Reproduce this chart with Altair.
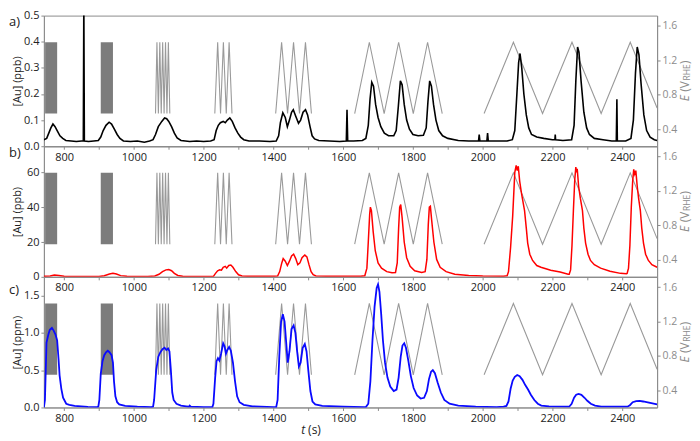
import altair as alt
import pandas as pd

FONT = "Open Sans"
W, H = 615, 131
T_DOMAIN = [742, 2500]
E_DOMAIN = [0.2, 1.72]
GREY = "#8c8c8c"
ELINE = "#9a9a9a"
TXT = "#222222"

# ---------------- data ----------------
x_ticks = list(range(800, 2500, 100))

# a) [Au] (ppb), black
sig_a = [(742,0.025),(750,0.03),(756,0.05),(762,0.07),(768,0.085),(774,0.075),(780,0.06),(788,0.04),(796,0.03),
         (805,0.022),(820,0.02),(835,0.018),(850,0.02),(855,0.02),(856.5,0.56),(858,0.02),(870,0.018),(885,0.02),
         (898,0.022),(905,0.035),(912,0.06),(920,0.08),(929,0.092),(936,0.085),(944,0.065),(952,0.045),(960,0.03),
         (970,0.02),(990,0.018),(1010,0.02),(1030,0.015),(1045,0.02),(1055,0.025),(1062,0.045),(1070,0.075),
         (1080,0.095),(1088,0.108),(1094,0.105),(1100,0.095),(1108,0.075),(1116,0.05),(1124,0.032),(1135,0.022),
         (1160,0.018),(1180,0.02),(1200,0.018),(1220,0.02),(1230,0.025),(1236,0.06),(1242,0.08),(1248,0.09),
         (1256,0.095),(1262,0.09),(1268,0.1),(1275,0.108),(1282,0.095),(1290,0.07),(1298,0.05),(1306,0.035),
         (1315,0.025),(1330,0.02),(1360,0.02),(1390,0.018),(1408,0.02),(1415,0.04),(1420,0.09),(1427,0.128),
         (1434,0.11),(1440,0.075),(1446,0.1),(1452,0.13),(1457,0.14),(1464,0.115),(1472,0.088),(1478,0.1),
         (1485,0.13),(1492,0.14),(1498,0.12),(1505,0.075),(1511,0.04),(1518,0.028),(1530,0.022),(1560,0.02),
         (1590,0.018),(1609,0.02),(1611,0.14),(1613,0.02),(1630,0.02),(1655,0.022),(1665,0.03),(1672,0.08),
         (1677,0.18),(1682,0.245),(1687,0.23),(1693,0.16),(1700,0.11),(1708,0.075),(1718,0.05),(1730,0.04),
         (1745,0.04),(1752,0.06),(1758,0.15),(1764,0.25),(1769,0.235),(1775,0.16),(1782,0.1),(1790,0.065),
         (1800,0.045),(1815,0.04),(1830,0.042),(1838,0.07),(1843,0.17),(1848,0.25),(1853,0.23),(1859,0.16),
         (1866,0.1),(1874,0.06),(1885,0.04),(1900,0.03),(1930,0.022),(1960,0.02),(1988,0.02),(1990,0.045),
         (1992,0.02),(2012,0.02),(2014,0.05),(2016,0.02),(2040,0.02),(2070,0.02),(2085,0.025),(2092,0.06),
         (2098,0.2),(2103,0.32),(2107,0.355),(2112,0.3),(2118,0.2),(2125,0.12),(2132,0.07),(2140,0.045),
         (2155,0.035),(2175,0.03),(2200,0.025),(2207,0.025),(2208,0.045),(2209,0.025),(2230,0.022),(2255,0.025),
         (2262,0.08),(2267,0.25),(2272,0.38),(2276,0.36),(2282,0.25),(2290,0.13),(2298,0.07),(2306,0.045),
         (2320,0.03),(2345,0.025),(2370,0.02),(2383,0.02),(2384.7,0.18),(2386,0.02),(2410,0.02),(2425,0.03),
         (2432,0.1),(2438,0.28),(2443,0.38),(2448,0.35),(2454,0.24),(2462,0.12),(2470,0.06),(2480,0.035),
         (2492,0.025),(2500,0.022)]

# b) [Au] (ppb), red
sig_b = [(742,0.3),(760,0.5),(772,1.0),(785,0.8),(800,0.3),(830,0.2),(900,0.2),(915,0.6),(930,1.6),(940,2.0),
         (950,1.6),(962,0.7),(980,0.3),(1040,0.2),(1060,0.5),(1072,1.5),(1082,3),(1092,4),(1100,4.2),(1108,3.5),
         (1116,2),(1126,0.8),(1140,0.3),(1200,0.2),(1228,0.3),(1234,2),(1240,3.5),(1246,4),(1251,3.8),(1256,5.5),
         (1262,6),(1266,5),(1272,6.5),(1278,6.8),(1284,5.5),(1292,3),(1300,1.2),(1310,0.5),(1330,0.3),(1400,0.3),
         (1412,0.5),(1418,3),(1424,8),(1428,10.5),(1434,9),(1440,6.5),(1446,9),(1452,12),(1458,13),(1464,10.5),
         (1470,7),(1476,8),(1482,11),(1490,12.5),(1496,11.5),(1502,7),(1508,3),(1514,1.2),(1522,0.5),(1560,0.3),
         (1650,0.3),(1662,0.6),(1668,5),(1672,20),(1676,36),(1678,40),(1681,38),(1686,26),(1692,15),(1700,8),
         (1710,5),(1725,3),(1740,2.3),(1750,2.5),(1755,8),(1759,28),(1762,40),(1765,41.5),(1769,34),(1775,20),
         (1782,11),(1792,6),(1805,3.5),(1825,2.5),(1835,3),(1840,10),(1844,30),(1847,40),(1850,40.5),(1854,32),
         (1860,20),(1868,10),(1878,5.5),(1895,3),(1920,1.5),(1960,0.8),(2000,0.5),(2060,0.4),(2070,0.6),(2074,3),
         (2080,17),(2086,35),(2092,60),(2096,64),(2099,61),(2102,63.5),(2106,55),(2112,47),(2120,38),(2125,28),
         (2129,19.4),(2135,13),(2143,9.4),(2155,6.5),(2167,5.5),(2195,3.8),(2222,2.8),(2245,1.5),(2248,1.5),
         (2252,4),(2256,18),(2260,38),(2264,56),(2267,63),(2269,60),(2271,62),(2275,52),(2280,45),(2286,38),
         (2290,28),(2295,19.4),(2302,13),(2309,9.4),(2320,7),(2338,5),(2365,3.2),(2395,2),(2412,1.8),(2414,2),
         (2418,5),(2422,18),(2426,40),(2430,55),(2433,61.7),(2436,59),(2439,61),(2443,52),(2447,45),(2452,38),
         (2456,28),(2461,19.4),(2467,13),(2475,9.4),(2485,7),(2500,5.5)]

# c) [Au] (ppm), blue
sig_c = [(742,0.0),(745,0.1),(749.5,0.87),(755,0.98),(759,1.04),(765,1.065),(770,1.03),(775,0.98),(780,0.9),
         (784,0.65),(787,0.43),(792,0.25),(797,0.13),(806,0.05),(815,0.035),(830,0.02),(868,0.008),(895,0.005),
         (898,0.01),(901,0.1),(905,0.45),(910,0.62),(915,0.7),(920,0.74),(925,0.76),(930,0.74),(936,0.7),(940,0.6),
         (943,0.35),(947,0.15),(952,0.07),(958,0.04),(975,0.02),(1010,0.01),(1050,0.005),(1055,0.01),(1058,0.1),
         (1064,0.5),(1070,0.68),(1076,0.74),(1082,0.78),(1088,0.8),(1093,0.77),(1098,0.79),(1102,0.75),(1106,0.5),
         (1110,0.2),(1114,0.1),(1122,0.05),(1135,0.025),(1150,0.015),(1158,0.01),(1160,0.025),(1163,0.01),
         (1200,0.005),(1225,0.005),(1228,0.05),(1233,0.4),(1237,0.62),(1241,0.66),(1245,0.63),(1250,0.72),
         (1256,0.86),(1260,0.82),(1264,0.72),(1268,0.77),(1273,0.81),(1278,0.76),(1284,0.6),(1290,0.35),
         (1296,0.15),(1303,0.07),(1315,0.035),(1340,0.015),(1400,0.005),(1408,0.005),(1412,0.1),(1417,0.7),
         (1422,1.15),(1427,1.25),(1432,1.15),(1437,0.85),(1441,0.6),(1446,0.75),(1452,1.05),(1458,1.1),(1463,1.0),
         (1468,0.75),(1473,0.55),(1478,0.6),(1484,0.8),(1490,0.85),(1495,0.75),(1500,0.5),(1506,0.22),(1512,0.08),
         (1520,0.04),(1540,0.02),(1600,0.01),(1660,0.005),(1665,0.005),(1672,0.05),(1678,0.35),(1684,0.9),
         (1690,1.35),(1696,1.6),(1700,1.65),(1704,1.55),(1709,1.25),(1714,0.9),(1720,0.6),(1727,0.4),(1735,0.28),
         (1745,0.22),(1753,0.24),(1759,0.4),(1765,0.68),(1770,0.83),(1775,0.86),(1780,0.8),(1787,0.62),
         (1794,0.42),(1802,0.26),(1812,0.16),(1822,0.12),(1832,0.13),(1840,0.22),(1846,0.38),(1852,0.48),
         (1857,0.5),(1863,0.46),(1871,0.33),(1880,0.2),(1890,0.1),(1905,0.05),(1930,0.025),(1980,0.01),
         (2040,0.005),(2060,0.01),(2068,0.02),(2074,0.08),(2080,0.25),(2086,0.36),(2092,0.41),(2099,0.435),
         (2106,0.42),(2114,0.37),(2122,0.3),(2130,0.24),(2138,0.17),(2148,0.1),(2158,0.05),(2168,0.025),
         (2190,0.015),(2240,0.01),(2248,0.01),(2255,0.05),(2262,0.13),(2268,0.17),(2275,0.182),(2283,0.17),
         (2292,0.13),(2300,0.09),(2310,0.05),(2322,0.025),(2340,0.012),(2410,0.01),(2415,0.01),(2422,0.03),
         (2430,0.07),(2440,0.085),(2450,0.087),(2460,0.08),(2470,0.07),(2480,0.06),(2490,0.05),(2500,0.04)]

# potential program E (V_RHE): vertices of each sweep block
b200_t = [1062, 1066.1, 1070.2, 1074.3, 1078.4, 1082.5, 1086.6, 1090.7, 1094.8, 1098.9, 1103.0]
b200_e = [0.58, 1.41, 0.58, 1.41, 0.58, 1.41, 0.58, 1.41, 0.58, 1.41, 0.58]
b100_t = [1232, 1240.2, 1248.4, 1256.6, 1264.8, 1273, 1281.2]
b100_e = [0.58, 1.41, 0.58, 1.41, 0.58, 1.41, 0.58]
b50_t = [1406.5, 1423.5, 1440.6, 1457.7, 1474.8, 1491.9, 1509]
b50_e = [0.58, 1.41, 0.58, 1.41, 0.58, 1.41, 0.58]
b20_t = [1633, 1675, 1717.5, 1759, 1801, 1842, 1884]
b20_e = [0.58, 1.41, 0.58, 1.41, 0.58, 1.41, 0.58]
b10_t = [2004, 2088, 2171.6, 2256, 2339.6, 2423, 2500]
b10_e = [0.58, 1.41, 0.58, 1.41, 0.58, 1.41, 0.645]
# fast-cycling blocks that render as solid bands
dense_t0 = [745.5, 905]
dense_t1 = [780, 940]
dense_lo = [0.58, 0.58]
dense_hi = [1.41, 1.41]

# ---------------- tables ----------------
rows = []
for name, ts, es in [("200", b200_t, b200_e), ("100", b100_t, b100_e), ("50", b50_t, b50_e),
                     ("20", b20_t, b20_e), ("10", b10_t, b10_e)]:
    for t, e in zip(ts, es):
        rows.append({"block": name, "t": t, "e": e})
edf = pd.DataFrame(rows)
ddf = pd.DataFrame({"t": dense_t0, "t1": dense_t1, "lo": dense_lo, "hi": dense_hi})

xscale = alt.Scale(domain=T_DOMAIN, nice=False, zero=False)
xaxis = alt.Axis(values=x_ticks, format="d", title=None,
                 labelExpr="datum.value % 200 == 0 ? datum.label : ''")
escale = alt.Scale(domain=E_DOMAIN, nice=False, zero=False)
eaxis = alt.Axis(orient="right", values=[0.4, 0.8, 1.2, 1.6], format=".1f", title=None,
                 labelColor=GREY, labelPadding=2, labelFontSize=10.5)


def txt(s, x, y, size=12, color=TXT, style="normal", angle=0, align="left", baseline="middle"):
    return alt.Chart(pd.DataFrame({"s": [s]})).mark_text(
        font=FONT, fontSize=size, color=color, fontStyle=style, angle=angle,
        align=align, baseline=baseline).encode(x=alt.value(x), y=alt.value(y), text="s:N")


def e_title():
    yc = H / 2
    s0 = yc + 20.5
    xc = W + 27.5
    return [
        txt("E", xc, s0, color=GREY, style="italic", angle=270),
        txt("(V", xc, s0 - 9.7, color=GREY, angle=270),
        txt("RHE", xc + 2.5, s0 - 21, size=8.5, color=GREY, angle=270),
        txt(")", xc, s0 - 37.5, color=GREY, angle=270),
    ]


def panel(sig, color, sw, ydom, yvals, yfmt, ytitle, letter, ly, extra=()):
    sdf = pd.DataFrame(sig, columns=["t", "v"])
    line = alt.Chart(sdf).mark_line(color=color, strokeWidth=sw, clip=True).encode(
        x=alt.X("t:Q", scale=xscale, axis=xaxis),
        y=alt.Y("v:Q", scale=alt.Scale(domain=ydom, nice=False, zero=False),
                axis=alt.Axis(orient="left", values=yvals, format=yfmt, title=ytitle,
                              titleX=-26, titleBaseline="middle")),
    )
    eline = alt.Chart(edf).mark_line(color=ELINE, strokeWidth=1.1, clip=True).encode(
        x=alt.X("t:Q", scale=xscale, axis=xaxis),
        y=alt.Y("e:Q", scale=escale, axis=eaxis),
        detail="block:N",
    )
    erect = alt.Chart(ddf).mark_rect(color="#7c7c7c").encode(
        x=alt.X("t:Q", scale=xscale, axis=xaxis), x2="t1:Q",
        y=alt.Y("lo:Q", scale=escale, axis=eaxis), y2="hi:Q",
    )
    right = alt.layer(erect, eline)
    texts = [txt(letter, -35, ly, size=13)] + e_title() + list(extra)
    return alt.layer(right, line, *texts).resolve_scale(y="independent").properties(width=W, height=H)


pa = panel(sig_a, "#000000", 1.6, [0, 0.5], [0, 0.1, 0.2, 0.3, 0.4, 0.5], ".1f", "[Au] (ppb)", "a)", 6)
pb = panel(sig_b, "#ff0000", 1.5, [0, 75], [0, 20, 40, 60], "d", "[Au] (ppb)", "b)", 7)
pc = panel(sig_c, "#0a0aff", 1.8, [0, 1.75], [0, 0.5, 1.0, 1.5], ".1f", "[Au] (ppm)", "c)", 13,
           extra=[txt("t", 262, H + 23, size=12, style="italic", align="right"),
                  txt("(s)", 265, H + 23, size=12)])

chart = alt.vconcat(pa, pb, pc, spacing=0, bounds="flush").properties(
    padding={"left": 0, "top": 0, "right": 0, "bottom": 0}
).configure_view(stroke=GREY, strokeWidth=1).configure_axis(
    labelFont=FONT, labelFontSize=11, labelColor=TXT, domainColor=GREY, tickColor=GREY,
    tickSize=3, labelPadding=2, grid=False, titleFont=FONT, titleFontSize=11,
    titleFontWeight="normal", titleColor=TXT,
)

chart.save("out.html", embed_options={"renderer": "svg", "actions": False})
